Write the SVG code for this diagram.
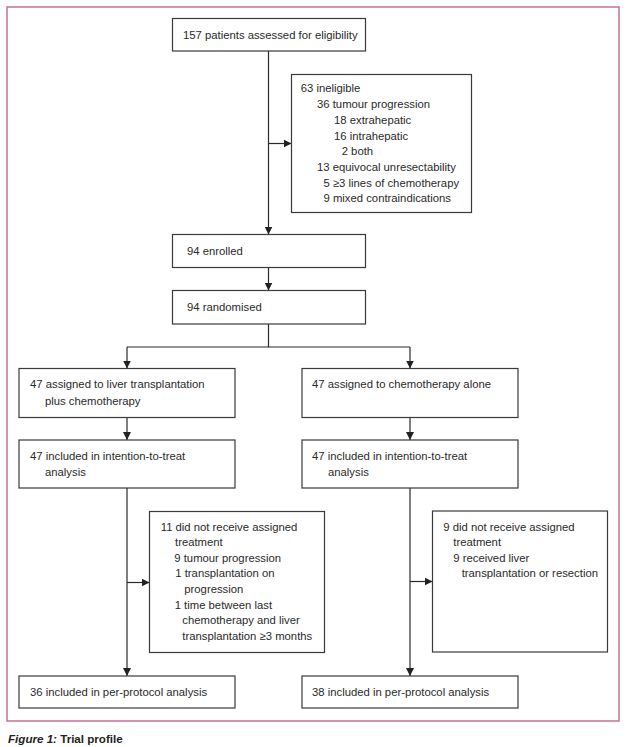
<svg xmlns="http://www.w3.org/2000/svg" width="627" height="747" viewBox="0 0 627 747">
<defs>
<marker id="arr" markerUnits="userSpaceOnUse" markerWidth="9" markerHeight="9" refX="8" refY="4.5" orient="auto">
<path d="M0,0.5 L8,4.5 L0,8.5 z" fill="#222"/>
</marker>
<style>
.box{fill:#fff;stroke:#3a3a3a;stroke-width:1.2}
.t{font-family:"Liberation Sans",Arial,sans-serif;font-size:11.3px;fill:#2a2a2a}
.c{fill:none;stroke:#2a2a2a;stroke-width:1.2}
.cap{font-family:"Liberation Sans",Arial,sans-serif;font-size:11.6px;font-weight:bold;fill:#222}
</style>
</defs>
<rect width="627" height="747" fill="#fff"/>
<rect x="7" y="7" width="612" height="714" fill="none" stroke="#c2668c" stroke-width="1.4"/>
<g id="connectors">
<line class="c" x1="268.5" y1="51" x2="268.5" y2="234.5" marker-end="url(#arr)"/>
<line class="c" x1="268.5" y1="143.5" x2="291.5" y2="143.5" marker-end="url(#arr)"/>
<line class="c" x1="268.5" y1="267.5" x2="268.5" y2="290.5" marker-end="url(#arr)"/>
<polyline class="c" points="268.5,324 268.5,347 127,347"/>
<line class="c" x1="268.5" y1="347" x2="410" y2="347"/>
<line class="c" x1="127" y1="347" x2="127" y2="368.5" marker-end="url(#arr)"/>
<line class="c" x1="410" y1="347" x2="410" y2="368.5" marker-end="url(#arr)"/>
<line class="c" x1="127" y1="417.5" x2="127" y2="440" marker-end="url(#arr)"/>
<line class="c" x1="410" y1="417.5" x2="410" y2="440" marker-end="url(#arr)"/>
<line class="c" x1="127" y1="488" x2="127" y2="676" marker-end="url(#arr)"/>
<line class="c" x1="410" y1="488" x2="410" y2="676" marker-end="url(#arr)"/>
<line class="c" x1="127" y1="582.5" x2="149.5" y2="582.5" marker-end="url(#arr)"/>
<line class="c" x1="410" y1="581.5" x2="432.5" y2="581.5" marker-end="url(#arr)"/>
</g>
<g id="assessed">
<rect class="box" x="172.5" y="18.5" width="193" height="32.5"/>
<text class="t" x="183" y="38.5">157 patients assessed for eligibility</text>
</g>
<g id="ineligible">
<rect class="box" x="291.5" y="74.5" width="180" height="138"/>
<text class="t" x="300.7" y="92.3">63 ineligible</text>
<text class="t" x="317" y="108.3">36 tumour progression</text>
<text class="t" x="334" y="124">18 extrahepatic</text>
<text class="t" x="334" y="139.7">16 intrahepatic</text>
<text class="t" x="341.7" y="155">2 both</text>
<text class="t" x="317" y="171.3">13 equivocal unresectability</text>
<text class="t" x="323.5" y="187.3">5 ≥3 lines of chemotherapy</text>
<text class="t" x="323.5" y="202.3">9 mixed contraindications</text>
</g>
<g id="enrolled">
<rect class="box" x="172.5" y="234.5" width="193" height="33"/>
<text class="t" x="187" y="254.5">94 enrolled</text>
</g>
<g id="randomised">
<rect class="box" x="172.5" y="290.5" width="193" height="33.5"/>
<text class="t" x="187" y="310.5">94 randomised</text>
</g>
<g id="assigned-lt">
<rect class="box" x="19" y="368.5" width="216" height="49"/>
<text class="t" x="30" y="387.5">47 assigned to liver transplantation</text>
<text class="t" x="45" y="405">plus chemotherapy</text>
</g>
<g id="assigned-chemo">
<rect class="box" x="302" y="368.5" width="216" height="49"/>
<text class="t" x="312" y="387.5">47 assigned to chemotherapy alone</text>
</g>
<g id="itt-lt">
<rect class="box" x="19" y="440" width="216" height="48"/>
<text class="t" x="30" y="460">47 included in intention-to-treat</text>
<text class="t" x="45" y="476">analysis</text>
</g>
<g id="itt-chemo">
<rect class="box" x="302" y="440" width="216" height="48"/>
<text class="t" x="312" y="460">47 included in intention-to-treat</text>
<text class="t" x="328" y="476">analysis</text>
</g>
<g id="excluded-lt">
<rect class="box" x="149.5" y="511.5" width="175" height="141"/>
<text class="t" x="160.7" y="530.7">11 did not receive assigned</text>
<text class="t" x="175" y="546.3">treatment</text>
<text class="t" x="174.3" y="562.3">9 tumour progression</text>
<text class="t" x="175.3" y="577.3">1 transplantation on</text>
<text class="t" x="184.3" y="593">progression</text>
<text class="t" x="174.7" y="609">1 time between last</text>
<text class="t" x="182.3" y="624">chemotherapy and liver</text>
<text class="t" x="182.3" y="639.7">transplantation ≥3 months</text>
</g>
<g id="excluded-chemo">
<rect class="box" x="432.5" y="511" width="175" height="141"/>
<text class="t" x="443.3" y="530.7">9 did not receive assigned</text>
<text class="t" x="453.3" y="546.3">treatment</text>
<text class="t" x="453.3" y="562.3">9 received liver</text>
<text class="t" x="461.7" y="577.3">transplantation or resection</text>
</g>
<g id="pp-lt">
<rect class="box" x="19" y="676" width="216" height="32"/>
<text class="t" x="30" y="695.7">36 included in per-protocol analysis</text>
</g>
<g id="pp-chemo">
<rect class="box" x="302" y="676" width="216" height="32"/>
<text class="t" x="312" y="695.7">38 included in per-protocol analysis</text>
</g>
<text class="cap" x="8" y="742.5"><tspan font-style="italic">Figure 1:</tspan> Trial profile</text>
</svg>
